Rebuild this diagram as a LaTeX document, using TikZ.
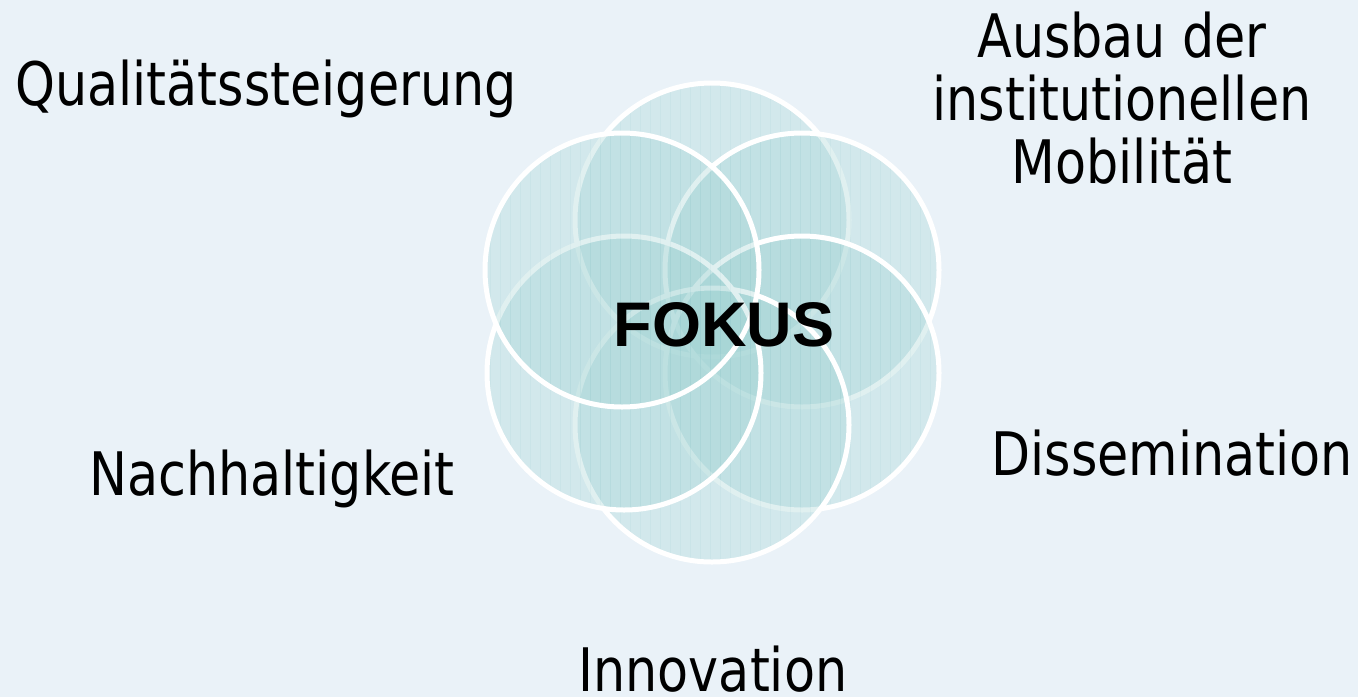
\documentclass[tikz,border=0pt]{standalone}
\usepackage{fontspec}
\setmainfont{DejaVu Sans Condensed}[FakeStretch=0.94]
\newfontfamily\boldarial{Liberation Sans}[BoldFont={Liberation Sans Bold}]
\definecolor{bgc}{RGB}{234,242,248}
\definecolor{tealc}{RGB}{162,212,212}
\definecolor{gridc}{RGB}{140,200,204}
\tikzset{
  petal/.style={fill=tealc, fill opacity=0.33},
  rim/.style={draw=white, line width=5pt},
  lbl/.style={font=\fontsize{60}{63}\selectfont, text=black, align=center, inner sep=0pt, anchor=base},
}
\begin{document}
\begin{tikzpicture}[x=1pt,y=-1pt]
\fill[bgc] (0,0) rectangle (1358,697);
\useasboundingbox (0,0) rectangle (1358,697);
\foreach \n/\cx/\cy in {top/712/220, ur/802/270, lr/802/373, bot/712/425, ll/624/373, ul/622/270}{
  \coordinate (c-\n) at (\cx,\cy);
  \fill[petal] (c-\n) circle[radius=137];
  \begin{scope}
    \clip (c-\n) circle[radius=137];
    \draw[gridc, opacity=0.1, line width=1pt] (480,70) grid[step=10] (960,580);
  \end{scope}
  \draw[rim] (c-\n) circle[radius=137];
}
\node[font=\boldarial\bfseries\fontsize{63}{63}\selectfont, inner sep=0pt] (fokus) at (724,325) {FOKUS};
\node[lbl] (q) at (266,105) {Qualitätssteigerung};
\node[lbl] (a) at (1122,57) {Ausbau der};
\node[lbl] (a2) at (1122,120) {institutionellen};
\node[lbl] (a3) at (1122,183) {Mobilität};
\node[lbl] (d) at (1172,475) {Dissemination};
\node[lbl] (n) at (272,495) {Nachhaltigkeit};
\node[lbl, text depth=0pt] (i) at (713,691) {Innovation};
\end{tikzpicture}
\end{document}
